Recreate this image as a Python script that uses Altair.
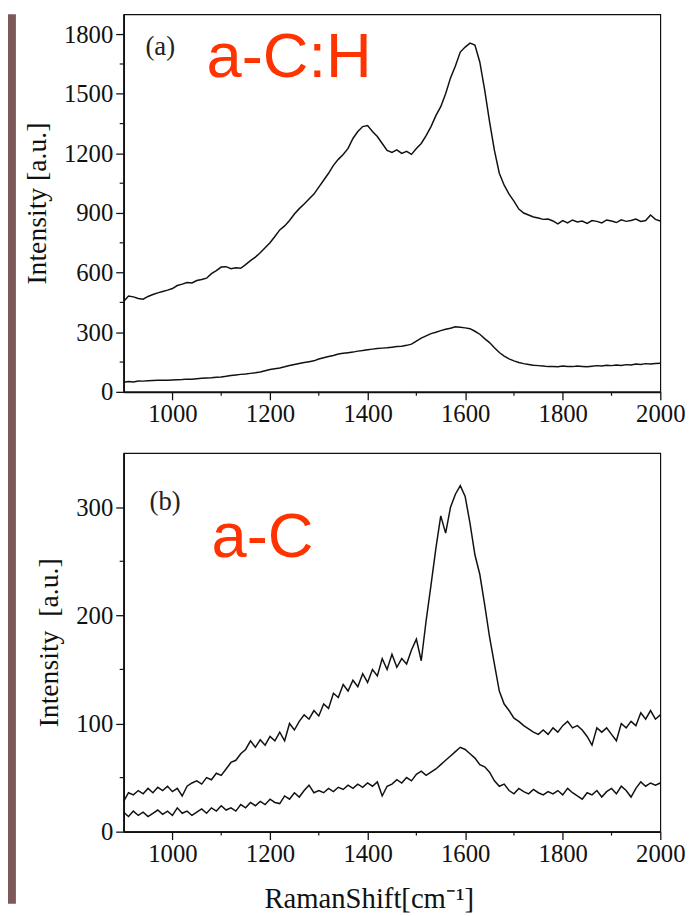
import altair as alt
import pandas as pd

# Raman shift grid (cm^-1)
shift = list(range(900, 2001, 10))

# Panel (a) a-C:H
a_upper = [455, 482, 478, 470, 466, 480, 490, 498, 505, 512,
           520, 535, 542, 550, 548, 560, 565, 572, 595, 610,
           628, 630, 620, 625, 622, 640, 660, 678, 700, 725,
           750, 782, 815, 835, 862, 895, 922, 945, 970, 995,
           1030, 1065, 1100, 1140, 1170, 1195, 1225, 1275, 1310, 1335,
           1340, 1310, 1285, 1250, 1215, 1205, 1218, 1200, 1210, 1195,
           1225, 1250, 1290, 1335, 1390, 1435, 1500, 1580, 1640, 1710,
           1735, 1755, 1745, 1660, 1520, 1360, 1215, 1100, 1040, 995,
           960, 920, 900, 890, 880, 875, 868, 870, 860, 845,
           862, 850, 865, 855, 860, 848, 862, 858, 850, 865,
           860, 852, 866, 858, 862, 870, 858, 862, 890, 868,
           860]
a_lower = [48, 52, 50, 55, 54, 56, 57, 58, 59, 58,
           60, 61, 62, 64, 63, 66, 68, 70, 71, 73,
           75, 78, 82, 85, 88, 90, 93, 96, 100, 106,
           112, 116, 120, 126, 133, 138, 143, 148, 152, 156,
           165, 172, 178, 183, 190, 194, 197, 200, 205, 208,
           212, 215, 218, 220, 222, 225, 228, 230, 234, 240,
           255, 270, 282, 293, 300, 308, 315, 320, 328, 325,
           322, 318, 305, 290, 268, 248, 222, 198, 180, 166,
           156, 148, 142, 138, 134, 132, 130, 127, 128, 126,
           130, 128, 127, 130, 128, 126, 129, 132, 130, 134,
           132, 135, 133, 137, 135, 140, 138, 142, 140, 143,
           144]

# Panel (b) a-C
b_upper = [28, 36, 34, 38, 35, 40, 36, 41, 38, 42,
           37, 40, 33, 42, 45, 47, 44, 50, 48, 54,
           52, 58, 64, 66, 72, 76, 84, 78, 85, 80,
           88, 84, 92, 84, 100, 94, 102, 108, 104, 112,
           107, 118, 114, 128, 124, 136, 130, 140, 134, 146,
           138, 150, 144, 160, 150, 164, 152, 160, 155, 168,
           178, 158, 195, 228, 262, 292, 276, 300, 312, 320,
           310, 285, 256, 238, 210, 180, 155, 130, 118, 112,
           105, 102, 98, 95, 92, 90, 94, 90, 96, 92,
           98, 102, 96, 98, 94, 88, 80, 96, 92, 96,
           90, 84, 100, 96, 102, 98, 110, 104, 112, 104,
           108]
b_lower = [18, 14, 19, 15, 18, 14, 17, 20, 16, 19,
           15, 22, 17, 19, 15, 18, 21, 17, 22, 19,
           24, 20, 22, 19, 25, 22, 27, 24, 28, 25,
           30, 27, 26, 33, 30, 36, 32, 38, 43, 36,
           38, 36, 40, 37, 41, 39, 43, 40, 44, 41,
           45, 42, 46, 33, 42, 44, 48, 45, 50, 47,
           53, 56, 52, 55, 58, 62, 66, 70, 74, 78,
           76, 72, 68, 62, 60, 55, 47, 42, 44, 38,
           35, 40, 37, 35, 39, 36, 34, 37, 35, 38,
           34, 40, 36, 33, 30, 36, 34, 38, 32, 37,
           40, 35, 42, 38, 32, 40, 46, 42, 45, 43,
           45]

# Tick positions
x_major = [1000, 1200, 1400, 1600, 1800, 2000]
x_minor = [1100, 1300, 1500, 1700, 1900]
y_major_a = [0, 300, 600, 900, 1200, 1500, 1800]
y_minor_a = [150, 450, 750, 1050, 1350, 1650]
y_major_b = [0, 100, 200, 300]
y_minor_b = [50, 150, 250]

SERIF = "Liberation Serif"
SANS = "Liberation Sans"
BG = "#7d5858"
RED = "#ff3300"
INK = "#111111"


def panel(upper, lower, ymax, ymajor, yminor, ytitle, tag, tag_pos, name, name_pos,
          height, xtitle):
    df = pd.DataFrame({
        "shift": shift * 2,
        "intensity": upper + lower,
        "curve": ["upper"] * len(shift) + ["lower"] * len(shift),
    })
    xaxis_args = dict(values=x_major, format="d", tickSize=8,
                      labelFlush=False, labelOverlap=False, labelPadding=2)
    if xtitle:
        xaxis_args.update(title=xtitle, titlePadding=19, titleX=248, titleFontSize=29)
    else:
        xaxis_args.update(title=None)
    xscale = alt.Scale(domain=[900, 2000], nice=False, zero=False)
    yscale = alt.Scale(domain=[0, ymax], nice=False)
    x = alt.X("shift:Q", scale=xscale, axis=alt.Axis(**xaxis_args))
    y = alt.Y("intensity:Q", scale=yscale,
              axis=alt.Axis(values=ymajor, format="d", title=ytitle, titlePadding=12,
                            tickSize=8, labelOverlap=False, labelFlush=False, labelPadding=3))
    lines = alt.Chart(df).mark_line(color=INK, strokeWidth=1.5).encode(
        x=x, y=y, detail="curve:N")

    ymin_df = pd.DataFrame({"intensity": yminor})
    ymin_rules = alt.Chart(ymin_df).mark_rule(color=INK, strokeWidth=1.2).encode(
        y="intensity:Q", x=alt.value(-4), x2=alt.value(0))
    xmin_df = pd.DataFrame({"shift": x_minor})
    xmin_rules = alt.Chart(xmin_df).mark_rule(color=INK, strokeWidth=1.2).encode(
        x="shift:Q", y=alt.value(height), y2=alt.value(height + 4))

    tag_df = pd.DataFrame({"shift": [tag_pos[0]], "intensity": [tag_pos[1]], "t": [tag]})
    tag_txt = alt.Chart(tag_df).mark_text(font=SERIF, fontSize=27, color="#222222",
                                          align="center", baseline="middle").encode(
        x="shift:Q", y="intensity:Q", text="t:N")
    name_df = pd.DataFrame({"shift": [name_pos[0]], "intensity": [name_pos[1]], "t": [name]})
    name_txt = alt.Chart(name_df).mark_text(font=SANS, fontSize=64, color=RED,
                                            align="left", baseline="alphabetic").encode(
        x="shift:Q", y="intensity:Q", text="t:N")
    return alt.layer(lines, ymin_rules, xmin_rules, tag_txt, name_txt).properties(
        width=543, height=height)


pa = panel(a_upper, a_lower, 1900, y_major_a, y_minor_a, "Intensity [a.u.]",
           "(a)", (975, 1735), "a-C:H", (1070, 1585), 382, None)
pb = panel(b_upper, b_lower, 350, y_major_b, y_minor_b, "Intensity\u00a0 [a.u.]",
           "(b)", (985, 305), "a-C", (1080, 254), 383, "RamanShift[cm\u207b\u00b9]")

strip = alt.Chart(pd.DataFrame({"k": [0]})).mark_rect(color=BG).encode(
    x=alt.value(0), x2=alt.value(8), y=alt.value(0), y2=alt.value(900)
).properties(width=8, height=900, view=alt.ViewBackground(strokeOpacity=0))

main = alt.vconcat(pa, pb, spacing=25)

chart = alt.hconcat(strip, main, spacing=7).properties(
    background="white",
    padding={"left": 0, "top": 0, "right": 0, "bottom": 0},
).configure_view(
    stroke=INK, strokeWidth=1.2
).configure_axis(
    labelFont=SERIF, labelFontSize=25, labelColor="#111111",
    titleFont=SERIF, titleFontSize=28, titleFontWeight="normal", titleColor="#111111",
    domainColor=INK, domainWidth=1.8, tickColor=INK, tickWidth=1.3,
    grid=False,
)

chart.save("out.html", embed_options={"renderer": "svg", "actions": False})
